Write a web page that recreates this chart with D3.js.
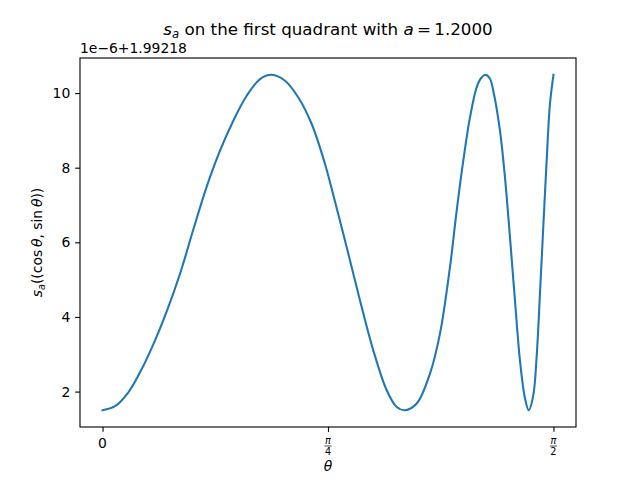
<!DOCTYPE html>
<html>
<head>
<meta charset="utf-8">
<style>
  body { margin: 0; background: #fff; }
  svg text { font-family: "DejaVu Sans", sans-serif; fill: #000; }
</style>
</head>
<body>
<svg width="640" height="480"></svg>
<script src="https://d3js.org/d3.v7.min.js"></script>
<script>

// values: theta (radians) and s_a minus offset, in units of 1e-6
var thetaVals = [0, 0.0435, 0.0899, 0.1306, 0.1769, 0.2236, 0.2699, 0.3162, 0.3629, 0.4092,
  0.4556, 0.5022, 0.5486, 0.5893, 0.6356, 0.6820, 0.7286, 0.7750, 0.8039, 0.8505,
  0.8969, 0.9432, 0.9899, 1.0247, 1.0536, 1.0944, 1.1407, 1.1755, 1.2103, 1.2337,
  1.2567, 1.2800, 1.3033, 1.3183, 1.3347, 1.3496, 1.3612, 1.3845, 1.4019, 1.4193,
  1.4367, 1.4541, 1.4716, 1.4848, 1.5005, 1.5123, 1.5238, 1.5353, 1.5471, 1.5586,
  1.5708];
var sVals = [1.500, 1.607, 1.981, 2.516, 3.266, 4.148, 5.157, 6.342, 7.493, 8.456,
  9.259, 9.928, 10.375, 10.490, 10.329, 9.882, 9.171, 8.100, 7.266, 5.869,
  4.443, 3.105, 2.035, 1.588, 1.500, 1.679, 2.482, 3.552, 5.334, 6.851,
  8.189, 9.347, 10.150, 10.396, 10.490, 10.383, 10.062, 8.991, 7.742, 6.137,
  4.443, 2.837, 1.821, 1.500, 1.901, 2.944, 4.622, 6.404, 8.189, 9.706,
  10.490];

var xTicks = [0, Math.PI / 4, Math.PI / 2];
var xTickLabels = [["0"], ["\u03c0", "4"], ["\u03c0", "2"]];
var yTicks = [2, 4, 6, 8, 10];
var offsetLabel = "1e\u22126+1.99218";

var svg = d3.select("svg"),
    plotL = 80, plotR = 576, plotT = 58, plotB = 427,
    tick = 4.86, pad = 4.86;

var data = thetaVals.map(function(t, i) { return {t: t, v: sVals[i]}; });

var xExt = d3.extent(thetaVals), xPad = (xExt[1] - xExt[0]) * 0.05;
var yExt = d3.extent(sVals), yPad = (yExt[1] - yExt[0]) * 0.05;

var x = d3.scaleLinear().domain([xExt[0] - xPad, xExt[1] + xPad]).range([plotL, plotR]);
var y = d3.scaleLinear().domain([yExt[0] - yPad, yExt[1] + yPad]).range([plotB, plotT]);

// curve
var line = d3.line()
  .x(function(d) { return x(d.t); })
  .y(function(d) { return y(d.v); })
  .curve(d3.curveCatmullRom.alpha(0.5));

svg.append("path")
  .datum(data)
  .attr("d", line)
  .attr("fill", "none")
  .attr("stroke", "#1f77b4")
  .attr("stroke-width", 2.08)
  .attr("stroke-linejoin", "round")
  .attr("stroke-linecap", "square");

// y axis
var yAxis = svg.append("g")
  .attr("transform", "translate(" + plotL + ",0)")
  .call(d3.axisLeft(y).tickValues(yTicks).tickSize(tick).tickPadding(pad).tickFormat(d3.format("d")));
yAxis.select(".domain").remove();
yAxis.selectAll("line").attr("stroke-width", 1.11);
yAxis.selectAll("text").attr("font-size", "13.9px").attr("font-family", "DejaVu Sans");

// x axis
var xAxis = svg.append("g")
  .attr("transform", "translate(0," + plotB + ")")
  .call(d3.axisBottom(x).tickValues(xTicks).tickSize(tick).tickFormat(function() { return ""; }));
xAxis.select(".domain").remove();
xAxis.selectAll("line").attr("stroke-width", 1.11);

xTicks.forEach(function(t, i) {
  var lab = xTickLabels[i], cx = x(t);
  if (lab.length == 1) {
    svg.append("text").attr("x", cx).attr("y", 447.5)
      .attr("text-anchor", "middle").attr("font-size", "13.9px").text(lab[0]);
  } else {
    svg.append("text").attr("x", cx).attr("y", 443.5)
      .attr("text-anchor", "middle").attr("font-size", "9.7px").attr("font-style", "italic").text(lab[0]);
    svg.append("line").attr("x1", cx - 3.6).attr("x2", cx + 3.6)
      .attr("y1", 446).attr("y2", 446).attr("stroke", "#000").attr("stroke-width", 0.7);
    svg.append("text").attr("x", cx).attr("y", 454.5)
      .attr("text-anchor", "middle").attr("font-size", "9.7px").text(lab[1]);
  }
});

// frame
svg.append("rect")
  .attr("x", plotL).attr("y", plotT)
  .attr("width", plotR - plotL).attr("height", plotB - plotT)
  .attr("fill", "none").attr("stroke", "#000").attr("stroke-width", 1.11);

// offset text
svg.append("text").attr("x", plotL).attr("y", 53)
  .attr("font-size", "13.9px").text(offsetLabel);

// title
var title = svg.append("text").attr("x", (plotL + plotR) / 2).attr("y", 35)
  .attr("text-anchor", "middle").attr("font-size", "16.7px");
title.append("tspan").attr("font-style", "italic").text("s");
title.append("tspan").attr("font-style", "italic").attr("font-size", "11.7px").attr("dy", 3).text("a");
title.append("tspan").attr("dy", -3).text(" on the first quadrant with ");
title.append("tspan").attr("font-style", "italic").text("a");
title.append("tspan").text("\u2009=\u20091.2000");

// x label
svg.append("text").attr("x", (plotL + plotR) / 2).attr("y", 471)
  .attr("text-anchor", "middle").attr("font-size", "13.9px").attr("font-style", "italic").text("\u03b8");

// y label
var ylab = svg.append("text")
  .attr("transform", "translate(42," + (plotT + plotB) / 2 + ") rotate(-90)")
  .attr("text-anchor", "middle").attr("font-size", "13.9px");
ylab.append("tspan").attr("font-style", "italic").text("s");
ylab.append("tspan").attr("font-style", "italic").attr("font-size", "9.7px").attr("dy", 2.5).text("a");
ylab.append("tspan").attr("dy", -2.5).text("((cos\u2009");
ylab.append("tspan").attr("font-style", "italic").text("\u03b8");
ylab.append("tspan").text(", sin\u2009");
ylab.append("tspan").attr("font-style", "italic").text("\u03b8");
ylab.append("tspan").text("))");

</script>
</body>
</html>
